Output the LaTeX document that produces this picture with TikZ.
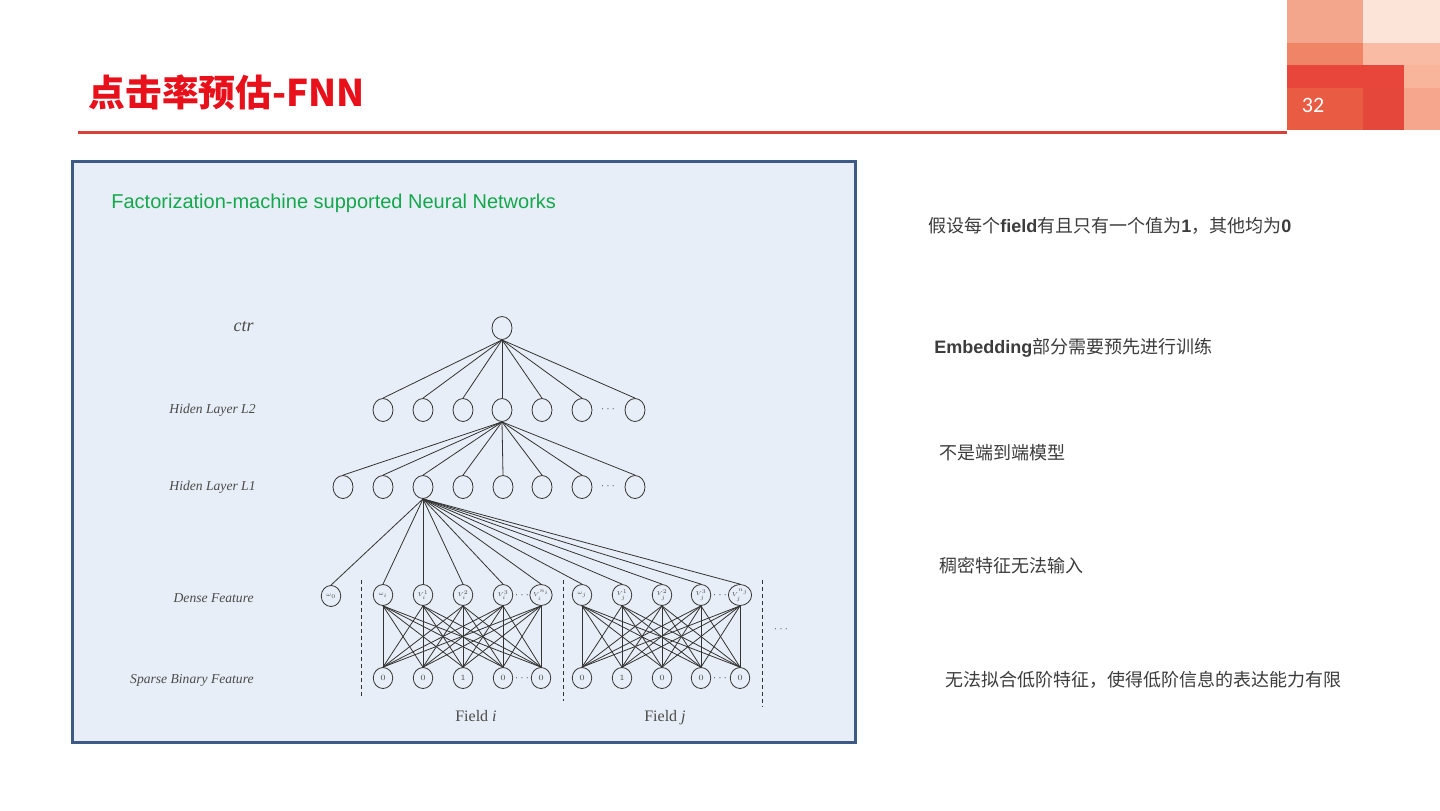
\documentclass[tikz,border=0pt]{standalone}
\usepackage{fontspec}
\usepackage{graphicx}
\usetikzlibrary{shapes.geometric}
\newfontfamily\cjk{Noto Sans CJK SC}
\newfontfamily\arialf{Liberation Sans}
\newfontfamily\serifl{Liberation Serif}
\newfontfamily\calib{Carlito}
\newcommand\lbold[1]{{\arialf\bfseries #1}}
\newcommand\tinym[1]{\scalebox{0.58}{$#1$}}
\newcommand\tdots{\scalebox{0.75}{$\cdots$}}
\definecolor{titlered}{HTML}{E8101A}
\definecolor{linered}{HTML}{D8413A}
\definecolor{panelblue}{HTML}{3D5A87}
\definecolor{panelfill}{HTML}{E8EEF7}
\definecolor{fmgreen}{HTML}{13A84C}
\definecolor{netgray}{HTML}{333333}
\definecolor{labgray}{HTML}{4A4A4A}
\definecolor{txtgray}{HTML}{3C3C3C}
\definecolor{sqA}{HTML}{F4A68C}
\definecolor{sqB}{HTML}{FDE4D9}
\definecolor{sqC}{HTML}{EF8467}
\definecolor{sqD}{HTML}{F9BBA3}
\definecolor{sqE}{HTML}{E8463A}
\definecolor{sqF}{HTML}{F9B59C}
\definecolor{sqG}{HTML}{EA5B43}
\definecolor{sqH}{HTML}{E5473A}
\definecolor{sqI}{HTML}{F5A68C}
\tikzset{
  neuron/.style={ellipse, draw=netgray, line width=0.4pt, minimum width=10pt, minimum height=11.5pt, inner sep=0pt},
  feat/.style={ellipse, draw=netgray, line width=0.4pt, minimum width=9.75pt, minimum height=10.5pt, inner sep=0pt, font=\fontsize{4}{4}\selectfont, text=labgray},
  edge/.style={draw=netgray, line width=0.4pt},
  sepline/.style={draw=netgray, line width=0.5pt, dash pattern=on 2pt off 1.5pt},
  dotsnode/.style={inner sep=0pt, font=\fontsize{6}{6}\selectfont, text=netgray},
  layerlab/.style={anchor=east, inner sep=0pt, text=labgray, font=\serifl\itshape\fontsize{6.8}{8}\selectfont},
  fieldlab/.style={anchor=base, inner sep=0pt, text=labgray, font=\serifl\fontsize{8}{10}\selectfont},
  note/.style={anchor=west, inner sep=0pt, text=txtgray, font=\cjk\fontsize{9}{11}\selectfont},
}
\begin{document}
\begin{tikzpicture}[x=0.5pt,y=-0.5pt]
\useasboundingbox (0,0) rectangle (1440,810);
\fill[white] (0,0) rectangle (1440,810);
% corner decoration
\fill[sqA] (1287,0) rectangle (1363,43);
\fill[sqB] (1363,0) rectangle (1440,43);
\fill[sqC] (1287,43) rectangle (1363,65);
\fill[sqD] (1363,43) rectangle (1440,65);
\fill[sqE] (1287,65) rectangle (1404,88);
\fill[sqF] (1404,65) rectangle (1440,88);
\fill[sqG] (1287,88) rectangle (1363,130);
\fill[sqH] (1363,88) rectangle (1404,130);
\fill[sqI] (1404,88) rectangle (1440,130);
\node[inner sep=0pt, text=white, font=\calib\fontsize{11}{12}\selectfont] (pagenum) at (1313,105) {32};
% title
\node[anchor=west, inner sep=0pt, text=titlered, font=\cjk\bfseries\fontsize{18.4}{22}\selectfont] (title) at (88,93) {点击率预估-FNN};
\draw[draw=linered, line width=1.5pt] (78,132) -- (1287,132);
% panel
\draw[draw=panelblue, line width=1.5pt, fill=panelfill] (72,161) rectangle (855,742);
\node[anchor=west, inner sep=0pt, text=fmgreen, font=\arialf\fontsize{10}{12}\selectfont] (heading) at (111,203) {Factorization-machine supported Neural Networks};
% layer labels
\node[layerlab, font=\serifl\itshape\fontsize{9}{10}\selectfont] (lctr) at (254,327) {ctr};
\node[layerlab] (ll2) at (256,410) {Hiden Layer L2};
\node[layerlab] (ll1) at (256,487) {Hiden Layer L1};
\node[layerlab] (ldense) at (254,598) {Dense Feature};
\node[layerlab] (lsparse) at (254,680) {Sparse Binary Feature};
% network
\node[neuron] (c) at (502,328) {};
\foreach \x [count=\i] in {383,423,463,502,542,582,635}
  \node[neuron] (a\i) at (\x,410) {};
\node[dotsnode] (dotsa) at (608,409) {\tdots};
\foreach \x [count=\i] in {343,383,423,463,503,542,582,635}
  \node[neuron] (b\i) at (\x,487) {};
\node[dotsnode] (dotsb) at (608,486) {\tdots};
\foreach \i in {1,...,7} \draw[edge] (c.south) -- (a\i.north);
\foreach \i in {1,...,8} \draw[edge] (a4.south) -- (b\i.north);
% dense features
\node[feat] (w0) at (331,596) {\tinym{\omega_0}};
\node[feat] (di1) at (383,595) {\tinym{\omega_i}};
\node[feat] (di2) at (423,595) {\tinym{V_i^1}};
\node[feat] (di3) at (463,595) {\tinym{V_i^2}};
\node[feat] (di4) at (503,595) {\tinym{V_i^3}};
\node[feat] (di5) at (541,595) {\tinym{V_i^{n_i}}};
\node[dotsnode] (dotsdi) at (522,595) {\tdots};
\node[feat] (dj1) at (582,595) {\tinym{\omega_j}};
\node[feat] (dj2) at (622,595) {\tinym{V_j^1}};
\node[feat] (dj3) at (662,595) {\tinym{V_j^2}};
\node[feat] (dj4) at (701,595) {\tinym{V_j^3}};
\node[feat] (dj5) at (740,595) {\tinym{V_j^{n_j}}};
\node[dotsnode] (dotsdj) at (720,595) {\tdots};
% sparse features
\foreach \x/\v [count=\i] in {383/0,423/0,463/1,503/0,541/0}
  \node[feat] (si\i) at (\x,678) {\v};
\foreach \x/\v [count=\i] in {582/0,622/1,662/0,701/0,740/0}
  \node[feat] (sj\i) at (\x,678) {\v};
\node[dotsnode] (dotssi) at (522,678) {\tdots};
\node[dotsnode] (dotssj) at (720,678) {\tdots};
% L1 to dense
\draw[edge] (b3.south) -- (w0.north);
\foreach \i in {1,...,5} {
  \draw[edge] (b3.south) -- (di\i.north);
  \draw[edge] (b3.south) -- (dj\i.north);
}
% sparse to dense, fully connected per field
\foreach \i in {1,...,5} {
  \foreach \k in {1,...,5} {
    \draw[edge] (di\i.south) -- (si\k.north);
    \draw[edge] (dj\i.south) -- (sj\k.north);
  }
}
% separators
\draw[sepline] (361,580) -- (361,698);
\draw[sepline] (563,580) -- (563,701);
\draw[sepline] (762,580) -- (762,707);
\node[dotsnode] (dotsr) at (781,629) {\tdots};
\node[fieldlab] (fi) at (476,721) {Field \textit{i}};
\node[fieldlab] (fj) at (665,721) {Field \textit{j}};
% right notes
\node[note] (n1) at (928,226) {假设每个\lbold{field}有且只有一个值为\lbold{1}，其他均为\lbold{0}};
\node[note] (n2) at (934,348) {\lbold{Embedding}部分需要预先进行训练};
\node[note] (n3) at (939,453) {不是端到端模型};
\node[note] (n4) at (939,566) {稠密特征无法输入};
\node[note] (n5) at (945,680) {无法拟合低阶特征，使得低阶信息的表达能力有限};
\end{tikzpicture}
\end{document}
